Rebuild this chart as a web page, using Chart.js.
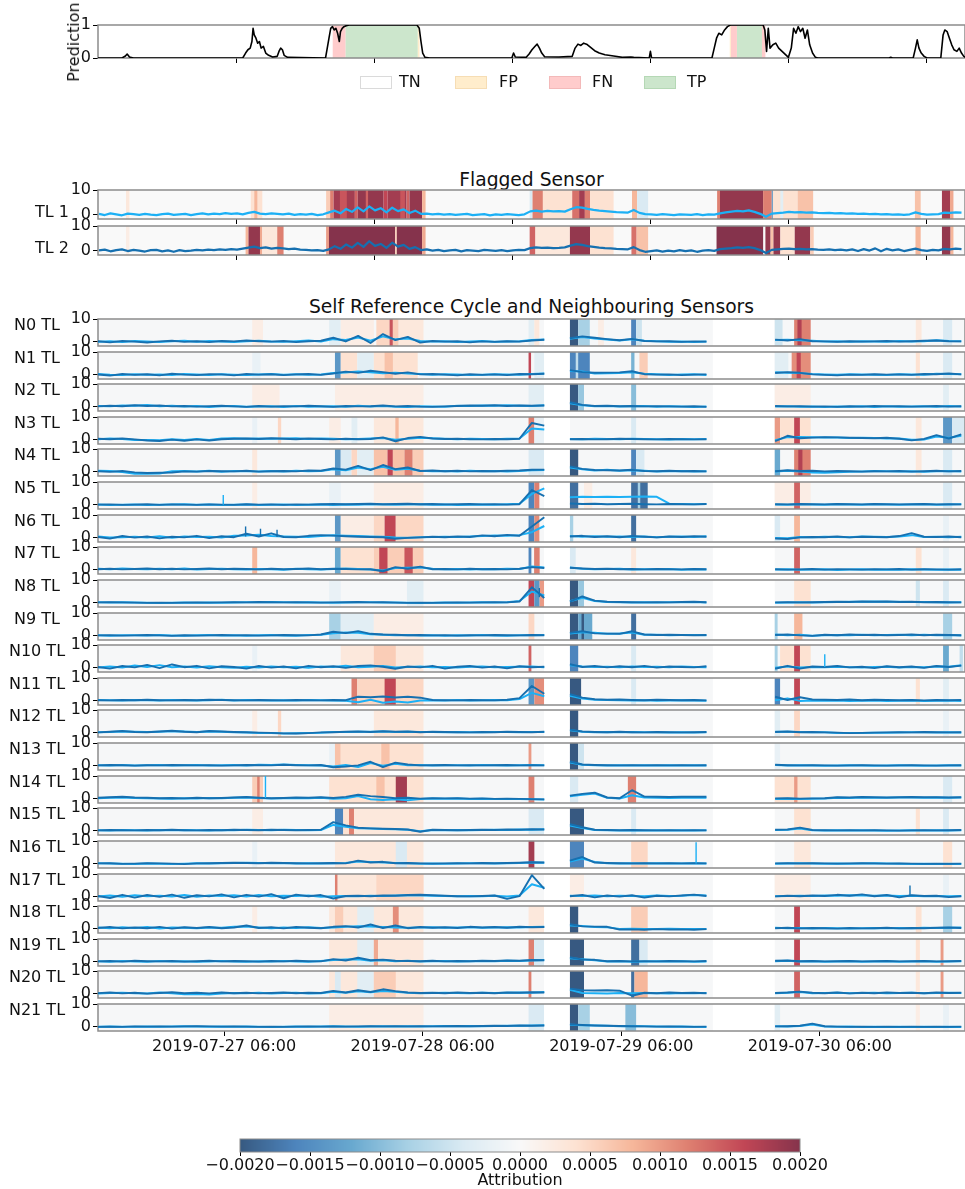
<!DOCTYPE html>
<html>
<head>
<meta charset="utf-8">
<title>Sensor attribution overview</title>
<script src="https://cdn.jsdelivr.net/npm/chart.js@4.4.1/dist/chart.umd.min.js"></script>
<style>
  html, body { margin: 0; padding: 0; background: #fff; }
  #fig { position: relative; width: 965px; height: 1189px; overflow: hidden;
         font-family: 'DejaVu Sans', 'Liberation Sans', sans-serif; color: #111; }
  #fig canvas { position: absolute; left: 0; }
  .txt { position: absolute; white-space: nowrap; line-height: 1; font-size: 16px; }
  .swatch { position: absolute; width: 30px; height: 11px; border: 1px solid; }
</style>
</head>
<body>
<div id="fig"></div>
<script>
// ---------------- data ----------------

// Model prediction, [hour, probability]
const predictionPoints = [
  [-0.2,0],[4.0,0],[4.6,0.06],[4.9,0.12],[5.3,0.03],[6,0],[25.0,0],[25.5,0.15],[25.9,0.25],[26.3,0.3],
  [26.6,0.5],[26.8,0.9],[27.0,0.7],[27.3,0.6],[27.6,0.45],[27.9,0.5],[28.2,0.3],[28.6,0.35],[29.0,0.15],[29.5,0.08],
  [30.2,0.03],[31.0,0.05],[31.3,0.2],[31.6,0.3],[31.9,0.25],[32.2,0.08],[32.8,0.02],[35,0.01],[39.4,0],[39.7,0.3],
  [40.0,0.6],[40.3,0.9],[40.6,0.95],[40.9,0.85],[41.2,0.9],[41.5,0.75],[41.8,0.5],[42.0,0.8],[42.3,0.9],[42.6,0.95],
  [43.0,0.98],[43.5,1.0],[55.3,1.0],[55.7,0.9],[56.0,0.5],[56.3,0.15],[56.7,0.02],[57.5,0],[71.8,0],[72.1,0.15],
  [72.4,0.03],[74.3,0.02],[74.8,0.12],[75.3,0.25],[75.8,0.35],[76.2,0.42],[76.6,0.3],[77.0,0.15],[77.5,0.04],[80,0.03],
  [82.3,0.05],[82.8,0.3],[83.3,0.42],[83.8,0.38],[84.3,0.45],[84.8,0.42],[85.5,0.32],[86.2,0.22],[87.0,0.15],[88.0,0.1],
  [89.5,0.06],[91,0.02],[92.5,0.03],[93,0.02],[95.7,0],[95.9,0.2],[96.1,0],[106.6,0],[107.0,0.3],[107.4,0.6],
  [107.8,0.75],[108.3,0.7],[108.8,0.85],[109.3,0.95],[109.8,1.0],[115.5,1.0],[115.8,0.85],[116.1,0.2],[116.4,0.9],[116.7,0.3],
  [117.2,0.4],[117.7,0.45],[118.2,0.3],[118.8,0.2],[119.4,0.1],[119.9,0.02],[120.4,0.3],[120.8,0.9],[121.2,0.75],[121.6,0.95],
  [122.0,0.8],[122.4,0.9],[122.8,0.6],[123.2,0.85],[123.6,0.4],[124.1,0.15],[124.6,0.02],[125,0],[137.4,0],[137.7,0.02],
  [138,0],[141.6,0],[142.0,0.3],[142.3,0.55],[142.6,0.3],[143.0,0.15],[143.5,0.05],[144,0],[146.4,0],[146.8,0.7],
  [147.1,0.85],[147.5,0.8],[147.9,0.6],[148.3,0.4],[148.7,0.25],[149.2,0.2],[149.6,0.3],[150.0,0.15],[150.4,0.05],[150.7,0.02]
];

// Outcome periods [from hour, to hour, class]; everything else is TN
const outcomePeriods = [
  [40.65, 42.9, 'FN'], [42.9, 55.45, 'TP'], [55.45, 55.75, 'FP'],
  [109.7, 109.9, 'FP'], [109.9, 110.95, 'FN'], [110.95, 115.3, 'TP'], [115.3, 115.9, 'FN']
];
const outcomeClasses = ['TN', 'FP', 'FN', 'TP'];

// Flagged sensor time axis (hours), ticks once a day
const FLAG_X_MIN = -0.17, FLAG_X_MAX = 150.61;
const flagTickHours = [24, 48, 72, 96, 120, 144];
const TL_FIRST_HOUR = 0, TL_STEP_HOURS = 1;

// Flagged sensor readings, hourly
const tl1Values = [
  0.3,-0.2,0.5,0.1,-0.3,0.4,0.2,-0.1,0.3,0.0,
  -0.2,0.2,0.4,-0.1,0.1,0.3,-0.2,0.2,0.5,0.1,
  0.4,0.2,0.6,0.3,0.5,0.1,0.7,1.1,0.4,0.2,
  0.5,0.3,0.1,0.4,-0.1,0.2,0.0,0.3,-0.2,0.1,
  0.9,1.6,0.5,2.3,1.1,2.9,1.3,3.3,1.7,2.6,
  0.9,2.8,1.4,2.1,0.6,1.6,0.3,0.4,0.1,0.3,
  0.0,0.2,-0.1,0.1,0.3,-0.2,0.0,0.2,-0.3,0.1,
  -0.1,0.2,0.0,-0.2,0.1,1.3,1.6,1.2,1.5,1.3,
  1.4,1.2,2.2,3.0,2.8,2.3,1.9,1.6,1.4,1.2,
  1.0,0.9,0.8,1.9,0.7,0.2,0.1,-0.1,0.2,0.0,
  -0.2,0.1,0.0,-0.1,0.2,-0.2,0.1,0.0,0.5,0.9,
  1.2,1.5,1.3,1.7,1.1,0.3,-0.9,0.4,0.6,0.8,
  1.1,0.9,1.0,0.8,0.9,0.7,0.6,0.7,0.5,0.6,
  0.4,0.5,0.3,0.4,0.2,0.3,0.1,0.2,0.0,0.1,
  -0.1,0.1,0.9,0.3,0.0,0.1,0.2,0.8,0.7,0.9,0.8
];
const tl2Values = [
  0.1,0.4,-0.3,0.2,0.5,-0.2,0.3,0.0,-0.4,0.2,
  0.3,-0.3,0.1,-0.5,0.2,-0.2,0.0,0.3,0.1,0.4,
  0.2,0.5,0.3,0.6,0.4,0.8,1.2,1.6,1.0,1.3,
  0.8,1.1,0.9,0.6,0.8,0.4,0.3,0.1,0.2,-0.1,
  0.5,1.8,0.7,2.5,1.2,3.1,1.5,3.8,1.9,2.7,
  1.1,3.2,1.6,2.3,0.7,1.4,0.2,0.5,0.0,0.3,
  -0.2,0.1,0.3,-0.3,0.2,0.0,-0.2,0.3,0.1,-0.1,
  0.2,-0.2,0.1,0.3,0.2,1.0,1.3,1.1,1.2,1.0,
  1.1,1.3,2.0,2.6,2.3,1.8,1.5,1.2,1.0,0.9,
  0.7,0.6,0.5,1.4,0.2,-0.5,-0.2,0.1,-0.4,0.0,
  -0.3,0.2,-0.2,0.1,-0.5,0.0,0.2,-0.1,0.6,0.8,
  1.0,1.3,1.1,1.4,1.0,0.2,-1.0,0.3,0.5,0.7,
  0.8,0.6,0.7,0.5,0.6,0.4,0.3,0.5,0.2,0.4,
  0.1,0.5,-0.2,0.6,0.0,0.9,-0.3,0.7,0.1,0.5,
  -0.2,0.3,0.8,0.2,-0.1,0.3,0.1,0.7,0.5,0.8,0.6
];

// Attribution bands [from hour, to hour, attribution]
const tl1Attr = [
  [4.7,5.3,3e-4],[26.4,27.0,4e-4],[27.0,27.6,8e-4],[27.6,28.4,4e-4],
  [39.5,40.2,6e-4],[40.2,40.8,1.2e-3],[40.8,44.5,1.8e-3],[41.9,43.1,1.5e-3],[44.5,45.0,1.4e-3],[45.0,49.5,1.9e-3],
  [46.4,46.8,1.4e-3],[49.5,50.2,1.6e-3],[50.2,53.5,1.8e-3],[52.4,53.2,1.5e-3],[53.5,54.0,1.4e-3],[54.0,56.2,1.9e-3],[56.2,56.8,8e-4],
  [74.9,75.4,-4e-4],[75.4,77.2,1.2e-3],[77.2,82.3,4e-4],[82.3,83.5,1.3e-3],[83.5,84.5,1.8e-3],[84.5,85.4,1.2e-3],[85.4,89.5,4e-4],
  [92.7,93.6,8e-4],[93.6,95.5,-4e-4],
  [107.5,108.0,1.2e-3],[108.0,115.5,1.9e-3],[115.5,117.0,1.2e-3],[117.0,117.2,-1.5e-3],[117.2,121.5,4e-4],[118.5,119.0,-3e-4],
  [121.5,124.2,7e-4],[141.9,142.9,7e-4],[146.6,148.0,1.8e-3],[148.0,148.6,9e-4]
];
const tl2Attr = [
  [4.7,5.3,2e-4],[25.5,26.0,8e-4],[26.0,28.0,1.9e-3],[28.0,28.4,9e-4],[28.4,31.0,3e-4],[31.0,32.1,1.2e-3],
  [39.5,40.0,1.0e-3],[40.0,51.5,2e-3],[51.5,51.8,6e-4],[51.8,56.2,2e-3],[56.2,56.8,9e-4],
  [74.9,75.9,1.4e-3],[75.9,81.9,3e-4],[81.9,85.4,1.9e-3],[85.4,89.5,4e-4],[92.6,93.5,1.3e-3],[93.5,95.5,7e-4],
  [107.4,115.5,2e-3],[115.9,116.8,1.9e-3],[116.8,117.3,7e-4],[117.3,118.5,1.9e-3],[118.5,121.0,4e-4],
  [121.0,123.7,1.9e-3],[123.7,124.3,6e-4],[142.0,142.9,8e-4],[146.6,148.1,1.9e-3],[148.1,148.6,8e-4]
];

// Reference cycle / neighbour time axis: hours from 2019-07-27 00:00
const NB_X_MIN = -9.24, NB_X_MAX = 95.55;
const nbTickHours = [6, 30, 54, 78];
const nbTickLabels = ['2019-07-27 06:00', '2019-07-28 06:00', '2019-07-29 06:00', '2019-07-30 06:00'];
// recorded stretches [first hour, number of samples], sampled every 1.5 h
const NB_SEGMENTS = [[-9.3, 37], [47.8, 12], [72.6, 16]];
const NB_STEP_HOURS = 1.5;
const nbCoverage = [[-9.24, 44.67], [47.8, 65.07], [72.55, 95.55]];

const n0Dark = [0.3,-0.2,0.4,0.1,-0.3,0.2,0.5,0.0,0.3,-0.1, 0.4,0.2,0.6,0.3,0.1,0.4,-0.1,0.3,0.5,1.8, 0.2,2.6,-0.5,3.4,0.8,2.2,-0.3,0.4,0.1,0.3, -0.2,0.2,0.0,0.3,0.1,0.6,0.9,
  1.6,2.4,1.8,1.2,0.7,1.3,0.4,0.2,0.3,0.0,0.2,0.1,
  1.0,0.6,1.2,0.3,0.2,0.0,0.3,0.1,0.2,0.4,0.1,0.3,0.5,0.6,0.3,0.2];
const n0Light = [0.1,0.3,-0.1,0.4,0.2,0.0,0.3,0.5,0.1,0.4, 0.2,0.0,0.3,0.5,0.2,0.1,0.3,0.6,0.2,1.2, 0.8,1.9,0.5,2.4,1.1,1.5,0.4,0.2,0.3,0.0, 0.2,0.4,0.1,0.2,0.3,0.8,1.0,
  1.4,2.1,1.5,1.0,0.6,1.1,0.5,0.3,0.1,0.2,0.0,0.2,
  0.8,0.9,0.7,0.5,0.2,0.3,0.1,0.3,0.2,0.1,0.4,0.2,0.3,0.7,0.4,0.3];
const n1Dark = [0.2,-0.3,0.4,0.0,0.3,-0.2,0.5,0.1,-0.1,0.3, 0.2,-0.2,0.4,0.1,0.3,-0.1,0.2,0.4,0.0,0.6, 1.4,0.9,1.8,1.2,0.5,1.1,0.2,0.4,0.1,-0.2, 0.3,0.0,0.2,-0.1,0.4,0.3,0.5,
  2.1,1.2,0.9,1.0,1.1,1.6,0.3,0.1,0.2,-0.1,0.1,0.2,
  0.8,1.2,0.9,0.2,0.0,-0.2,0.1,0.0,0.3,0.1,0.2,0.0,0.4,0.3,0.6,0.2];
const n1Light = [0.4,0.1,0.0,0.3,0.1,0.2,0.0,0.4,0.2,0.0, 0.3,0.1,0.0,0.2,0.4,0.1,0.3,0.1,0.2,0.8, 1.0,1.5,1.1,0.7,0.9,0.6,0.4,0.1,0.3,0.2, 0.0,0.1,0.3,0.2,0.1,0.4,0.6,
  1.7,1.5,0.6,0.7,0.8,1.2,0.5,0.3,0.0,0.2,0.3,0.0,
  1.1,0.9,0.8,0.4,0.2,0.1,0.3,0.2,0.1,0.0,0.3,0.2,0.1,0.5,0.4,0.3];
const n2Dark = [0.2,0.5,0.3,0.7,0.4,0.6,0.2,0.4,0.1,0.3, 0.5,0.2,0.0,0.4,0.1,0.3,0.2,0.5,0.3,0.0, 0.4,0.2,0.3,0.6,0.2,0.4,0.1,0.0,0.2,0.4, 0.6,0.5,0.7,0.4,0.6,0.5,0.6,
  2.0,0.9,0.4,0.5,0.3,0.4,0.2,0.3,0.2,0.1,0.3,0.0,
  0.4,0.2,0.3,0.1,0.2,0.0,0.3,0.1,0.4,0.2,0.3,0.1,0.2,0.4,0.1,0.3];
const n2Light = [0.4,0.3,0.6,0.5,0.8,0.3,0.5,0.2,0.4,0.0, 0.3,0.4,0.1,0.2,0.3,0.0,0.4,0.1,0.2,0.3, 0.1,0.5,0.2,0.4,0.1,0.0,0.3,0.2,0.1,0.5, 0.4,0.6,0.5,0.7,0.5,0.4,0.7,
  1.6,0.7,0.3,0.4,0.2,0.3,0.4,0.1,0.3,0.2,0.0,0.2,
  0.2,0.3,0.1,0.2,0.0,0.2,0.1,0.3,0.0,0.3,0.1,0.2,0.3,0.1,0.4,0.2];
const n3Dark = [0.5,0.3,0.6,0.2,-0.3,-0.5,0.1,-0.4,0.2,-0.3, 0.3,0.5,0.6,0.4,0.7,0.5,0.3,0.6,0.4,0.2, 0.5,0.3,0.4,1.1,-0.6,0.8,1.3,0.6,0.4,0.5, 0.3,0.2,0.4,0.3,0.5,7.4,6.2,
  0.3,0.4,0.2,0.3,0.5,0.4,0.3,0.2,0.4,0.3,0.2,0.3,
  -0.6,1.8,0.7,1.0,1.2,1.1,0.9,0.8,0.7,0.9,0.5,-0.2,0.4,2.1,0.6,2.4];
const n3Light = [0.3,0.6,0.4,0.0,-0.1,-0.2,0.3,0.0,0.4,0.0, 0.6,0.7,0.5,0.6,0.5,0.6,0.7,0.4,0.6,0.5, 0.3,0.4,0.6,0.8,0.1,0.5,0.9,0.7,0.5,0.3, 0.5,0.4,0.3,0.5,0.6,5.0,4.5,
  0.4,0.3,0.5,0.4,0.3,0.5,0.4,0.3,0.2,0.4,0.3,0.4,
  -0.2,1.2,1.3,1.2,1.0,1.0,0.8,0.9,0.8,0.6,0.6,0.1,0.2,1.5,0.9,1.8];
const n4Dark = [0.3,0.0,0.4,-0.2,-0.5,-0.4,-0.3,0.2,0.1,0.4, 0.3,0.2,0.5,0.1,0.3,0.4,0.2,0.6,0.5,1.5, 1.0,2.6,0.8,3.0,1.2,1.9,0.4,0.6,0.3,0.5, 0.2,0.4,0.3,0.5,0.6,0.9,1.0,
  2.4,1.3,0.8,0.7,0.6,0.9,0.4,0.3,0.5,0.3,0.4,0.2,
  0.3,0.7,0.4,0.5,0.2,0.4,0.3,0.1,0.3,0.2,0.4,0.1,0.3,0.5,0.2,0.4];
const n4Light = [0.5,0.4,-0.1,-0.8,-0.8,-0.7,0.3,0.4,0.2,0.5, 0.1,0.4,0.3,0.2,0.4,0.2,0.5,0.3,0.4,1.1, 0.7,1.9,1.2,2.2,0.9,1.4,0.5,0.3,0.4,0.2, 0.5,0.3,0.4,0.2,0.4,0.7,0.8,
  1.9,1.1,0.6,0.9,0.5,0.7,0.5,0.2,0.3,0.4,0.2,0.3,
  0.2,0.5,0.2,-0.3,-0.4,-0.2,0.1,0.2,0.4,0.3,0.2,0.3,0.1,0.3,0.4,0.2];
const n5Dark = [0.1,0.2,0.0,0.1,0.3,0.0,0.2,0.1,0.0,0.2, 0.1,0.0,0.3,0.1,0.2,0.0,0.2,0.1,0.3,0.4, 0.3,0.4,0.5,0.3,0.4,0.5,0.3,0.4,0.2,0.3, 0.4,0.2,0.3,0.1,0.3,6.5,3.8,
  0.6,0.4,0.5,0.3,0.4,0.5,0.3,0.2,0.4,0.3,0.2,0.4,
  0.3,0.2,0.4,0.3,0.2,0.4,0.3,0.2,0.4,0.3,0.2,0.3,0.4,0.2,0.3,0.2];
const n5Light = [0.2,0.0,0.1,0.2,0.0,0.1,0.2,0.3,0.1,0.2, 0.0,0.1,0.2,0.0,0.1,0.2,0.0,0.1,0.2,0.0, 0.2,0.1,0.3,0.2,0.1,0.2,0.3,0.1,0.2,0.0, 0.1,0.2,0.1,0.3,0.5,4.8,7.2,
  3.3,3.5,3.4,3.6,3.4,3.5,3.7,3.5,0.5,0.4,0.3,0.4,
  0.2,0.1,0.3,0.2,0.1,0.3,0.2,0.1,0.3,0.2,0.1,0.2,0.3,0.1,0.2,0.3];
const n6Dark = [0.4,-0.3,0.8,0.1,0.6,-0.2,0.5,0.2,0.9,-0.1, 0.7,0.3,1.8,0.6,2.0,0.4,0.3,0.9,1.2,1.0, 0.7,0.5,0.4,0.3,-0.4,0.0,0.2,0.5,0.3,0.6, 0.4,1.1,0.7,1.3,0.9,5.0,9.0,
  0.6,0.9,0.4,0.7,0.3,0.8,0.5,0.2,0.6,0.4,0.7,0.5,
  -0.3,-0.5,0.2,0.4,0.3,0.6,0.2,0.5,0.4,0.3,0.8,2.1,0.5,0.4,0.6,0.3];
const n6Light = [0.6,0.2,0.3,0.5,0.2,0.7,0.1,0.6,0.4,0.5, 0.2,0.9,1.0,1.4,0.8,0.6,0.5,0.4,0.8,1.1, 0.9,0.8,0.6,0.5,0.2,0.1,0.3,0.4,0.5,0.4, 0.6,0.8,1.0,0.9,1.2,2.5,5.2,
  0.8,0.5,0.7,0.5,0.6,0.4,0.6,0.3,0.5,0.6,0.4,0.7,
  0.0,-0.2,0.4,0.3,0.5,0.4,0.3,0.6,0.5,0.4,0.6,1.2,0.4,0.5,0.3,0.5];
const n7Dark = [0.3,0.5,0.2,0.4,0.6,0.3,0.5,0.2,0.4,0.6, 0.3,0.5,0.4,0.2,0.5,0.3,0.4,0.6,0.3,0.5, 0.4,0.2,0.3,-0.6,1.2,0.5,1.4,0.3,0.4,0.2, 0.5,0.3,0.4,0.2,0.5,1.2,0.8,
  0.9,0.6,0.4,0.5,0.3,0.4,0.2,0.4,0.3,0.2,0.4,0.3,
  0.3,0.1,0.2,0.4,0.1,0.3,0.2,0.1,0.3,0.2,0.4,0.1,0.3,0.2,0.1,0.3];
const n7Light = [0.5,0.3,0.6,0.4,0.3,0.5,0.3,0.6,0.2,0.4, 0.5,0.3,0.2,0.4,0.3,0.1,0.5,0.3,0.2,0.4, 0.6,0.4,0.2,-0.3,0.8,0.9,1.0,0.5,0.3,0.4, 0.2,0.4,0.3,0.5,0.4,1.5,1.0,
  1.0,0.5,0.3,0.4,0.5,0.2,0.3,0.3,0.4,0.1,0.3,0.2,
  0.2,0.3,0.1,0.2,0.3,0.0,0.2,0.3,0.1,0.2,0.1,0.3,0.2,0.1,0.2,0.1];
const n8Dark = [0.2,0.3,0.2,0.1,0.0,0.1,0.0,0.1,0.2,0.1, 0.2,0.3,0.2,0.4,0.3,0.2,0.3,0.2,0.1,0.2, 0.3,0.4,0.2,0.3,0.1,0.0,0.1,0.0,0.1,0.2, 0.1,0.2,0.3,0.2,0.6,6.8,2.1,
  0.5,2.8,1.0,0.5,0.4,0.3,0.2,0.3,0.2,0.4,0.5,0.3,
  0.2,0.3,0.2,0.3,0.4,0.5,0.4,0.6,0.5,0.6,0.4,0.5,0.3,0.4,0.3,0.2];
const n8Light = [0.3,0.2,0.3,0.2,0.1,0.0,0.1,0.2,0.1,0.2, 0.1,0.2,0.3,0.3,0.4,0.3,0.2,0.3,0.2,0.1, 0.2,0.3,0.3,0.2,0.2,0.1,0.0,0.1,0.2,0.1, 0.2,0.3,0.2,0.3,0.8,5.0,3.2,
  0.7,2.2,0.8,0.4,0.3,0.2,0.3,0.2,0.3,0.3,0.4,0.2,
  0.1,0.2,0.3,0.2,0.3,0.4,0.5,0.5,0.6,0.5,0.5,0.4,0.4,0.3,0.2,0.3];
const n9Dark = [0.2,0.3,0.1,0.2,0.4,0.2,0.0,0.3,0.1,0.2, 0.4,0.2,0.3,0.1,0.2,0.4,0.3,0.2,0.6,1.8, 1.2,2.1,0.9,0.6,0.5,0.3,0.4,0.2,0.3,0.1, 0.3,0.2,0.4,0.3,0.2,0.4,0.3,
  1.3,2.0,1.1,1.0,0.9,2.0,0.6,0.4,0.5,0.4,0.3,0.4,
  0.4,0.6,0.2,0.0,0.5,0.3,0.6,0.4,0.5,0.3,0.4,0.6,0.3,0.5,0.4,0.3];
const n9Light = [0.3,0.1,0.3,0.3,0.2,0.4,0.2,0.1,0.3,0.4, 0.2,0.3,0.1,0.3,0.4,0.2,0.1,0.4,0.5,1.2, 1.5,1.4,0.7,0.5,0.3,0.4,0.2,0.3,0.1,0.3, 0.2,0.4,0.2,0.1,0.3,0.3,0.4,
  1.0,1.6,1.4,0.9,1.0,1.5,0.5,0.5,0.3,0.4,0.4,0.3,
  0.6,0.3,0.5,0.1,0.3,0.4,0.3,0.5,0.3,0.4,0.5,0.3,0.5,0.3,0.4,0.2];
const n10Dark = [0.4,-0.3,0.8,0.2,1.3,-0.1,1.5,0.3,0.9,-0.2, 0.7,0.4,-0.3,0.8,0.1,0.6,-0.2,0.9,0.3,0.7, 0.0,0.8,1.1,0.5,-0.4,0.6,0.2,0.9,-0.3,0.5, 0.8,0.1,0.6,-0.2,0.7,0.3,0.5,
  1.6,0.4,0.8,0.2,0.7,0.3,0.9,0.1,0.6,0.4,0.2,0.7,
  -0.4,0.9,-0.3,0.6,0.4,0.8,0.2,0.5,-0.1,0.7,0.3,0.6,0.0,0.8,0.4,1.0];
const n10Light = [0.1,0.6,0.2,1.0,0.4,1.2,0.3,0.6,0.2,0.7, 0.3,0.1,0.5,0.2,0.6,0.3,0.5,0.1,0.6,0.4, 0.9,0.3,0.5,0.8,0.2,0.4,0.6,0.3,0.4,0.2, 0.5,0.6,0.3,0.4,0.5,0.6,0.3,
  1.2,0.6,0.4,0.5,0.3,0.6,0.4,0.5,0.3,0.6,0.4,0.3,
  0.1,0.6,0.2,0.4,0.3,0.5,0.3,0.2,0.4,0.5,0.2,0.4,0.3,0.6,0.5,1.2];
const n11Dark = [0.3,0.2,0.4,0.3,0.5,0.3,0.2,0.4,0.3,0.5, 0.4,0.3,0.2,0.4,0.3,0.2,0.4,0.3,0.2,0.4, 0.3,1.8,1.6,1.9,1.5,1.8,1.4,0.4,0.3,0.2, 0.4,0.3,0.2,0.5,1.2,6.5,3.1,
  2.9,1.4,0.7,0.5,0.6,0.4,0.3,0.5,0.4,0.3,0.4,0.2,
  1.8,0.4,1.6,0.6,0.5,0.4,0.6,0.3,0.5,0.4,0.3,0.4,0.2,0.4,0.3,0.4];
const n11Light = [0.4,0.3,0.2,0.4,0.3,0.2,0.4,0.3,0.2,0.3, 0.5,0.2,0.4,0.3,0.2,0.3,0.2,0.4,0.3,0.2, 0.1,-0.6,0.5,-0.8,-0.3,-0.7,0.2,0.3,0.2,0.4, 0.2,0.3,0.4,0.3,0.8,3.5,2.0,
  2.2,1.0,0.5,0.4,0.3,0.2,0.3,0.1,0.2,0.3,0.2,0.1,
  0.3,1.1,0.0,0.2,0.1,0.2,0.0,0.1,0.2,0.0,0.1,0.2,0.0,0.1,0.2,0.0];
const n12Dark = [0.2,0.5,0.8,0.4,0.3,0.6,0.9,0.5,0.3,0.8, 0.6,0.4,0.3,0.1,0.0,-0.2,-0.3,-0.1,0.2,0.3, 0.5,0.6,0.4,0.7,0.5,0.6,0.3,0.5,0.4,0.3, 0.2,0.4,0.3,0.5,0.4,0.3,0.5,
  1.4,0.6,0.4,0.3,0.5,0.3,0.2,0.4,0.3,0.2,0.3,0.4,
  0.4,0.6,0.3,0.4,0.2,0.1,-0.1,0.0,0.1,0.2,0.3,0.2,0.4,0.3,0.2,0.3];
const n12Light = [0.3,0.4,0.6,0.5,0.4,0.5,0.7,0.6,0.4,0.6, 0.5,0.3,0.2,0.0,-0.1,-0.3,-0.2,0.0,0.1,0.4, 0.4,0.5,0.5,0.6,0.4,0.5,0.4,0.4,0.3,0.4, 0.3,0.3,0.4,0.4,0.3,0.4,0.4,
  1.1,0.5,0.3,0.4,0.3,0.4,0.3,0.3,0.2,0.3,0.2,0.3,
  0.5,0.5,0.4,0.3,0.3,0.0,0.0,-0.1,0.1,0.1,0.2,0.3,0.3,0.2,0.3,0.2];
const n13Dark = [0.2,0.4,0.3,0.1,0.3,0.2,0.4,0.3,0.2,0.3, 0.1,0.2,0.4,0.3,0.2,0.5,0.3,0.2,0.4,-0.6, -0.3,0.2,1.8,-0.5,1.4,0.6,0.2,0.3,0.4,0.2, 0.3,0.2,0.3,0.4,0.2,0.3,0.2,
  1.9,0.6,0.4,0.3,0.2,0.3,0.2,0.3,0.2,0.3,0.2,0.3,
  0.5,0.3,0.2,0.3,0.2,0.1,0.2,0.3,0.2,0.1,0.2,0.3,0.2,0.1,0.2,0.3];
const n13Light = [0.3,0.2,0.4,0.2,0.3,0.4,0.2,0.3,0.4,0.2, 0.3,0.4,0.2,0.5,0.4,0.6,0.4,0.3,0.2,-0.3, 0.4,-0.5,1.2,0.1,0.9,0.3,0.4,0.2,0.3,0.3, 0.2,0.4,0.3,0.2,0.3,0.4,0.3,
  1.5,0.5,0.3,0.2,0.3,0.2,0.3,0.2,0.3,0.2,0.3,0.2,
  0.4,0.2,0.3,0.2,0.1,0.2,0.3,0.2,0.1,0.2,0.3,0.2,0.1,0.2,0.3,0.2];
const n14Dark = [0.5,0.7,0.9,0.6,0.5,0.3,0.4,0.2,0.5,0.3, 0.4,0.6,0.8,0.5,0.3,0.4,0.6,0.5,0.7,0.4, 0.9,1.8,1.2,0.8,0.3,0.5,0.1,0.3,0.2,0.3, 0.1,0.2,0.0,0.1,0.0,-0.1,-0.2,
  1.4,2.2,2.7,0.6,0.3,3.8,1.0,0.9,0.8,0.9,1.0,0.9,
  0.2,0.3,0.1,0.2,0.3,0.7,0.6,0.8,0.7,0.6,0.7,0.8,0.7,0.7,0.6,0.7];
const n14Light = [0.3,0.5,0.6,0.4,0.3,0.2,0.1,0.3,0.2,0.4, 0.3,0.5,0.6,0.4,0.2,0.3,0.4,0.3,0.5,0.1, 0.3,1.2,-0.2,-0.5,-0.2,-0.6,0.0,0.2,0.1,0.2, 0.0,0.1,-0.1,0.0,-0.1,-0.2,-0.3,
  1.2,1.8,2.3,0.5,0.2,1.6,0.6,0.5,0.4,0.5,0.6,0.5,
  0.0,0.1,0.0,0.1,0.2,0.5,0.4,0.6,0.5,0.5,0.6,0.6,0.5,0.6,0.5,0.6];
const n15Dark = [0.2,0.4,0.3,0.2,0.4,0.3,0.5,0.3,0.2,0.4, 0.3,0.5,0.4,0.3,0.5,0.4,0.3,0.4,0.5,3.8, 2.4,1.4,1.1,0.9,0.8,0.6,-0.4,0.5,0.4,0.3, 0.4,0.5,0.4,0.6,0.5,0.7,0.6,
  2.9,1.6,0.5,0.4,0.3,0.4,0.3,0.2,0.3,0.2,0.3,0.2,
  0.5,0.6,1.4,0.4,0.3,0.2,0.3,0.2,0.3,0.2,0.1,0.2,0.3,0.2,0.3,0.4];
const n15Light = [0.3,0.2,0.4,0.3,0.2,0.4,0.3,0.4,0.3,0.2, 0.4,0.3,0.5,0.4,0.3,0.5,0.4,0.3,0.4,2.6, 1.8,1.2,1.0,0.8,0.7,0.5,-0.2,0.4,0.3,0.4, 0.3,0.4,0.5,0.4,0.6,0.5,0.7,
  2.3,1.2,0.4,0.3,0.2,0.3,0.2,0.3,0.2,0.3,0.2,0.3,
  0.4,0.5,1.0,0.3,0.2,0.3,0.2,0.3,0.2,0.1,0.2,0.3,0.2,0.3,0.2,0.3];
const n16Dark = [0.2,0.3,0.0,0.1,0.3,0.2,0.1,-0.1,0.2,0.3, 0.4,0.5,0.4,0.3,0.5,0.4,0.3,0.2,0.3,0.4, 0.2,1.4,0.6,0.9,0.3,0.4,0.2,0.1,0.2,0.3, 0.2,0.4,0.3,0.4,0.5,0.7,0.6,
  1.4,3.0,0.6,0.4,0.3,0.2,0.3,0.2,0.3,0.2,0.3,0.2,
  0.2,0.3,0.2,0.3,0.2,0.1,0.2,0.3,0.2,0.1,0.2,0.1,0.0,0.1,0.0,0.1];
const n16Light = [0.3,0.2,0.1,0.0,0.2,0.1,0.0,0.1,0.3,0.2, 0.3,0.4,0.5,0.4,0.3,0.4,0.2,0.3,0.2,0.3, 0.4,1.0,0.8,0.6,0.4,0.3,0.1,0.2,0.1,0.2, 0.3,0.3,0.2,0.3,0.4,0.6,0.5,
  1.0,2.3,0.8,0.3,0.2,0.3,0.2,0.3,0.2,0.2,0.3,0.2,
  0.1,0.2,0.3,0.2,0.1,0.2,0.1,0.2,0.3,0.2,0.1,0.0,0.1,0.0,0.1,0.0];
const n17Dark = [0.4,-0.5,0.9,-0.3,0.8,0.0,1.0,-0.4,0.7,0.2, 1.1,-0.2,0.9,0.1,1.2,-0.6,1.0,0.3,0.8,-0.7, 0.4,0.5,0.3,0.6,0.5,0.8,0.9,0.7,0.5,0.3, 0.2,0.4,0.6,-0.9,0.3,9.5,3.5,
  0.3,0.8,-0.2,0.6,0.1,0.7,-0.3,0.5,0.2,0.6,1.0,0.4,
  0.2,0.5,0.3,0.6,0.4,0.9,0.5,1.1,0.3,0.8,-0.2,0.7,0.4,0.5,-0.1,0.3];
const n17Light = [0.2,0.6,0.1,0.7,0.3,0.5,0.2,0.8,0.1,0.6, 0.4,0.7,0.2,0.8,0.3,0.5,0.4,0.6,0.1,0.3, 0.4,0.3,0.5,0.4,0.6,0.7,0.6,0.5,0.4,0.3, 0.4,0.3,0.5,0.2,0.6,5.5,4.0,
  0.5,0.4,0.6,0.3,0.5,0.4,0.3,0.6,0.4,0.5,0.8,0.6,
  0.3,0.4,0.5,0.4,0.6,0.5,0.7,0.6,0.5,0.6,0.4,0.5,0.3,0.4,0.3,0.4];
const n18Dark = [0.4,0.8,0.2,0.6,0.3,0.9,0.1,0.7,0.4,0.8, 0.3,0.6,1.5,0.4,0.7,0.2,0.8,0.5,0.3,0.9, 1.2,0.6,1.9,0.4,1.5,0.3,0.8,0.5,0.7,0.4, 0.9,0.6,0.8,0.5,0.9,0.7,0.8,
  2.0,1.1,1.0,0.9,-0.3,-0.2,-0.4,-0.1,-0.3,-0.2,-0.4,-0.1,
  0.3,0.5,0.2,0.4,0.3,0.1,0.4,0.2,0.3,0.5,0.2,0.4,0.3,0.5,0.6,0.4];
const n18Light = [0.6,0.3,0.7,0.4,0.8,0.2,0.6,0.5,0.3,0.6, 0.5,0.9,1.0,0.6,0.3,0.6,0.4,0.7,0.4,0.6, 0.9,1.2,1.0,0.8,0.6,0.5,0.6,0.7,0.5,0.6, 0.7,0.5,0.6,0.7,0.6,0.8,0.9,
  1.5,1.3,0.8,0.7,0.0,0.1,-0.1,0.0,0.1,0.0,-0.1,0.0,
  0.5,0.3,0.4,0.2,0.4,0.3,0.2,0.3,0.4,0.3,0.4,0.3,0.5,0.4,0.5,0.6];
const n19Dark = [0.2,0.4,0.1,0.5,0.3,0.2,0.4,0.1,0.3,0.5, 0.2,0.4,0.3,0.1,0.4,0.2,0.5,0.3,0.2,1.2, 0.6,1.8,0.7,1.0,0.5,0.4,0.3,0.5,0.2,0.4, 0.3,0.5,0.4,0.6,0.5,0.8,0.7,
  2.0,1.0,0.9,0.3,0.4,0.2,0.3,0.2,0.4,0.3,0.2,0.4,
  0.5,0.6,0.3,0.4,0.2,0.3,0.4,0.2,0.3,0.4,0.2,0.3,0.4,0.2,0.3,0.4];
const n19Light = [0.3,0.1,0.4,0.2,0.1,0.4,0.2,0.3,0.1,0.2, 0.4,0.2,0.1,0.3,0.2,0.4,0.2,0.1,0.4,0.8, 1.0,1.2,0.5,0.7,0.3,0.5,0.2,0.3,0.4,0.2, 0.3,0.4,0.3,0.5,0.4,0.6,0.8,
  1.6,1.2,0.7,0.2,0.3,0.1,0.2,0.3,0.2,0.3,0.1,0.2,
  0.3,0.5,0.2,0.3,0.1,0.2,0.3,0.1,0.2,0.3,0.1,0.2,0.3,0.1,0.2,0.3];
const n20Dark = [0.3,0.6,0.2,0.5,0.1,0.4,0.7,0.3,0.5,0.2, 0.6,0.3,0.5,0.2,0.4,0.6,0.3,0.5,0.4,1.3, 0.6,1.6,0.8,2.0,1.2,0.6,0.4,0.5,0.3,0.6, 0.4,0.5,0.3,0.6,0.5,0.7,0.6,
  2.3,1.6,1.5,1.6,1.4,-0.8,0.5,0.3,0.6,0.4,0.5,0.3,
  0.4,0.6,1.0,0.5,0.3,0.6,0.2,0.5,0.3,0.6,0.4,0.5,0.3,0.6,0.4,0.5];
const n20Light = [0.2,0.4,0.5,0.3,0.2,0.6,0.3,-0.2,0.0,-0.3, 0.2,0.4,0.3,0.5,0.2,0.4,0.5,0.2,0.3,0.9, 0.5,1.1,0.7,1.3,0.9,0.5,0.3,0.4,0.5,0.4, 0.3,0.5,0.4,0.5,0.6,0.5,0.8,
  1.8,0.4,0.3,0.2,0.4,0.3,0.4,0.3,0.2,0.4,0.3,0.4,
  0.3,0.5,0.8,0.3,0.4,0.5,0.3,0.4,0.5,0.3,0.4,0.5,0.3,0.4,0.5,0.4];
const n21Dark = [0.0,0.1,0.0,0.2,0.1,0.2,0.1,0.2,0.3,0.2, 0.1,0.2,0.1,0.0,0.1,0.0,0.1,0.2,0.1,0.2, 0.1,0.2,0.3,0.2,0.3,0.2,0.3,0.2,0.3,0.4, 0.3,0.4,0.5,0.4,0.6,0.5,0.6,
  1.1,0.8,0.6,0.5,0.4,0.3,0.2,0.1,0.2,0.1,0.0,0.1,
  0.2,0.3,0.5,1.4,0.3,0.1,0.0,0.1,0.0,0.1,0.0,0.1,0.0,0.1,0.0,0.1];
const n21Light = [0.1,0.2,0.1,0.1,0.2,0.1,0.2,0.3,0.2,0.1, 0.2,0.1,0.2,0.1,0.0,0.1,0.2,0.1,0.2,0.3, 0.2,0.1,0.2,0.3,0.2,0.3,0.2,0.3,0.4,0.3, 0.4,0.3,0.4,0.5,0.5,0.6,0.7,
  0.9,0.7,0.6,0.5,0.3,0.4,0.3,0.2,0.1,0.2,0.1,0.0,
  0.3,0.2,0.4,1.0,0.2,0.1,0.2,0.0,0.1,0.0,0.1,0.0,0.1,0.0,0.1,0.0];

// Short single-reading spikes [panel, line, hour, from, to]
const lineSpikes = [
  [5, 'light', 5.9, 0.1, 4.3], [6, 'dark', 8.6, 0.6, 5.0], [6, 'dark', 10.4, 0.5, 4.0], [6, 'dark', 12.4, 0.4, 3.5],
  [8, 'dark', 44.1, 2.5, 6.5], [10, 'light', 78.6, 0.4, 6.0], [14, 'light', 11.0, 0.4, 10.0],
  [16, 'light', 63.05, 0.2, 9.5], [17, 'dark', 88.9, 0.5, 5.0]
];

// Neighbour attribution bands [from hour, to hour, attribution]
const n0Attr = [[9.4,10.7,2e-4],[18.7,20.1,-3e-4],[20.1,24.1,2e-4],[24.4,26.0,5e-4],[26.0,26.4,1.5e-3],[26.4,27.1,6e-4],[27.1,30.1,3e-4],
  [42.8,43.5,-3e-4],[43.5,44.1,3e-4],[47.8,48.8,-2e-3],[48.8,50.2,-8e-4],[51.2,51.9,2e-4],[55.2,55.8,-1.6e-3],[55.8,56.5,-5e-4],
  [72.55,73.5,-5e-4],[74.9,76.9,1.2e-3],[75.3,75.8,1.7e-3],[89.6,90.3,3e-4],[92.9,94.0,-4e-4]];
const n1Attr = [[9.4,10.4,-2e-4],[19.4,20.1,-1.4e-3],[20.1,22.1,4e-4],[22.1,24.1,-3e-4],[24.1,29.4,4e-4],[25.4,26.4,7e-4],[42.8,43.1,1.6e-3],
  [43.5,44.67,-3e-4],[47.8,50.2,-1.6e-3],[48.5,48.8,-6e-4],[55.2,55.6,-1.1e-3],[56.2,57.2,6e-4],[72.55,74.2,-3e-4],[74.6,76.9,1.1e-3],
  [75.2,75.7,1.6e-3],[89.6,90.1,4e-4],[92.9,94.0,-4e-4]];
const n2Attr = [[9.4,12.7,2e-4],[19.4,30.1,2e-4],[42.8,44.67,-3e-4],[47.8,48.8,-2e-3],[48.8,49.5,-9e-4],[55.2,55.8,-1e-3],[72.55,76.9,2e-4],[92.9,93.6,-3e-4]];
const n3Attr = [[9.4,10.0,-2e-4],[12.5,12.9,5e-4],[18.7,20.1,2e-4],[21.4,22.1,-3e-4],[24.1,30.1,3e-4],[26.7,27.1,8e-4],[42.8,43.5,1.2e-3],
  [43.5,44.67,-2e-4],[55.2,55.8,-4e-4],[72.55,73.2,1e-3],[73.2,74.9,4e-4],[74.9,75.6,1.6e-3],[75.6,76.9,4e-4],[89.6,90.3,3e-4],
  [92.9,94.0,-1.4e-3],[94.0,95.55,-4e-4]];
const n4Attr = [[9.4,10.0,3e-4],[19.4,20.1,-1.4e-3],[20.1,21.4,-4e-4],[21.4,22.1,5e-4],[22.1,24.1,-3e-4],[24.1,25.75,7e-4],[25.75,26.4,1.6e-3],
  [26.4,27.8,7e-4],[27.8,28.8,1.2e-3],[28.8,30.1,6e-4],[42.8,44.67,-4e-4],[47.8,48.8,-2e-3],[55.2,55.8,-1.6e-3],[55.8,56.8,-4e-4],
  [72.55,73.2,-1.2e-3],[74.9,76.9,1.2e-3],[75.4,75.9,1.7e-3],[89.6,90.3,3e-4],[92.9,94.0,-4e-4]];
const n5Attr = [[9.4,10.0,2e-4],[18.7,20.1,-2e-4],[24.1,30.1,2e-4],[42.8,43.5,-1.6e-3],[43.5,44.1,1.2e-3],[47.8,48.8,-1.8e-3],[49.5,50.5,2e-4],
  [55.2,57.2,-1.8e-3],[56.0,56.3,-8e-4],[72.55,76.9,2e-4],[74.9,75.6,1.4e-3],[92.9,94.0,-4e-4]];
const n6Attr = [[19.4,20.1,-1.4e-3],[20.1,24.1,2e-4],[24.1,25.4,5e-4],[25.4,26.75,1.6e-3],[26.75,30.1,5e-4],[42.8,43.5,-1.6e-3],[43.5,44.1,1.1e-3],
  [47.8,48.2,-8e-4],[55.2,55.8,-1.8e-3],[72.55,73.2,-4e-4],[74.9,75.6,8e-4],[92.9,93.6,-2e-4]];
const n7Attr = [[9.4,10.0,8e-4],[19.4,20.1,-1.2e-3],[20.1,24.1,4e-4],[24.1,30.1,6e-4],[24.75,25.75,1.6e-3],[27.8,28.8,1.5e-3],[42.8,43.14,-1.6e-3],
  [43.47,44.14,1.2e-3],[47.8,48.5,-4e-4],[55.2,55.8,3e-4],[74.9,75.6,1.4e-3],[89.6,90.3,4e-4],[92.9,93.6,-2e-4]];
const n8Attr = [[18.7,20.1,-2e-4],[28.1,30.1,-3e-4],[42.8,43.5,1.6e-3],[43.5,44.14,-1.4e-3],[44.14,44.67,1e-3],[47.8,48.8,-2e-3],[48.8,49.5,-9e-4],
  [74.9,76.9,4e-4],[89.6,90.1,-5e-4],[92.9,93.6,-4e-4]];
const n9Attr = [[18.7,20.1,-8e-4],[20.1,24.1,-3e-4],[24.1,30.1,2e-4],[42.8,43.5,5e-4],[47.8,48.8,-2e-3],[48.8,50.5,-1.2e-3],[49.2,49.5,-2e-3],
  [55.2,55.8,-1.8e-3],[72.55,72.9,-8e-4],[74.9,75.9,8e-4],[92.9,94.0,-8e-4]];
const n10Attr = [[9.4,10.0,-2e-4],[20.1,30.1,3e-4],[24.1,26.75,6e-4],[42.8,43.14,1.4e-3],[47.8,48.8,-1.6e-3],[55.2,55.8,-4e-4],[72.55,72.9,-8e-4],
  [73.2,76.9,4e-4],[74.9,75.6,1.6e-3],[92.9,93.6,-1.2e-3],[94.9,95.3,-6e-4]];
const n11Attr = [[21.4,22.1,1.2e-3],[22.1,30.1,5e-4],[25.4,26.75,1.6e-3],[42.8,43.5,-1.4e-3],[43.5,44.67,1.1e-3],[47.8,49.15,-2e-3],[55.2,55.8,-4e-4],
  [72.55,73.2,-1.6e-3],[74.9,75.6,1.6e-3],[89.6,90.1,4e-4],[92.9,93.6,-3e-4]];
const n12Attr = [[9.4,10.0,2e-4],[12.5,12.9,5e-4],[24.1,30.1,3e-4],[47.8,48.8,-2e-3],[72.55,73.2,-3e-4],[74.9,75.6,5e-4],[92.9,93.6,-2e-4]];
const n13Attr = [[18.7,19.4,-2e-4],[19.4,20.1,7e-4],[20.1,30.1,4e-4],[25.0,26.0,7e-4],[42.8,43.14,1e-3],[47.8,48.8,-2e-3],[48.8,49.5,-5e-4],[72.55,73.2,-2e-4]];
const n14Attr = [[9.4,10.7,6e-4],[10.0,10.3,1.2e-3],[18.7,30.1,4e-4],[24.4,25.4,7e-4],[26.75,28.1,1.8e-3],[42.8,43.5,1.2e-3],[47.8,48.8,-4e-4],
  [54.8,55.8,1.2e-3],[72.55,76.9,4e-4],[74.9,75.3,1e-3],[92.9,94.0,-4e-4]];
const n15Attr = [[9.4,10.7,2e-4],[19.4,20.4,-1.6e-3],[20.4,21.1,4e-4],[21.1,21.7,1.2e-3],[21.7,30.1,3e-4],[42.8,44.67,-4e-4],[47.8,49.5,-2e-3],
  [55.2,55.8,-4e-4],[74.9,76.9,4e-4],[89.6,90.1,4e-4],[92.9,93.6,-4e-4]];
const n16Attr = [[9.4,10.0,-2e-4],[19.4,30.1,3e-4],[26.75,28.1,-4e-4],[42.8,43.5,1.8e-3],[47.8,49.5,-1.6e-3],[55.2,57.2,5e-4],[74.9,76.9,3e-4],[92.9,94.0,4e-4]];
const n17Attr = [[19.4,19.73,1.2e-3],[19.73,30.1,3e-4],[24.4,30.1,5e-4],[47.8,49.5,2e-4],[72.55,76.9,2e-4],[92.9,93.6,-2e-4]];
const n18Attr = [[9.4,10.0,2e-4],[18.7,30.1,3e-4],[19.4,20.4,6e-4],[22.1,24.1,-3e-4],[26.4,27.1,1.1e-3],[42.8,44.67,3e-4],[47.8,48.8,-2e-3],
  [55.2,57.2,6e-4],[74.9,75.6,1.6e-3],[89.6,90.3,4e-4],[92.9,94.0,-8e-4]];
const n19Attr = [[18.7,30.1,3e-4],[22.1,24.1,-3e-4],[24.1,24.6,9e-4],[42.8,43.47,1.2e-3],[43.47,44.67,-4e-4],[47.8,49.5,-2e-3],[55.2,56.2,-1.8e-3],
  [56.2,57.2,-4e-4],[74.9,75.6,1.6e-3],[89.6,90.1,4e-4],[92.6,92.95,1e-3]];
const n20Attr = [[18.7,30.1,3e-4],[19.4,20.1,-4e-4],[22.1,24.1,-3e-4],[24.1,26.75,6e-4],[42.8,43.14,1.2e-3],[47.8,49.5,-2e-3],[55.2,55.6,-1.8e-3],
  [55.6,57.2,8e-4],[74.9,75.6,1.4e-3],[89.6,90.1,3e-4],[92.6,92.95,1e-3]];
const n21Attr = [[18.7,30.1,2e-4],[42.8,44.67,-4e-4],[47.8,48.8,-2e-3],[48.8,50.2,-8e-4],[54.5,55.8,-1e-3],[72.55,73.2,-3e-4],[89.6,90.1,2e-4],[92.9,93.6,-2e-4]];

// Colour bar
const ATTR_MIN = -0.002, ATTR_MAX = 0.002;
const colorbarTicks = [-0.002, -0.0015, -0.001, -0.0005, 0, 0.0005, 0.001, 0.0015, 0.002];

// ---------------- drawing ----------------
const FONT_FAMILY = "'DejaVu Sans', 'Liberation Sans', sans-serif";
const TICK_FONT = { family: FONT_FAMILY, size: 16 };
const DARK_LINE = '#1670b0';
const LIGHT_LINE = '#1cb0f5';
const FRAME = '#8c8c8c';
const fig = document.getElementById('fig');

// diverging red-blue map (blue = negative), drawn at 80 % opacity on white
const RDBU_R = ['#053061','#2166ac','#4393c3','#92c5de','#d1e5f0','#f7f7f7','#fddbc7','#f4a582','#d6604d','#b2182b','#67001f'];
const ATTR_ALPHA = 0.8;
function hexRgb(h) { return [1, 3, 5].map(i => parseInt(h.slice(i, i + 2), 16)); }
function attrColor(v) {
  let t = (v - ATTR_MIN) / (ATTR_MAX - ATTR_MIN);
  t = Math.max(0, Math.min(1, t));
  const p = t * (RDBU_R.length - 1);
  const i = Math.min(Math.floor(p), RDBU_R.length - 2);
  const f = p - i;
  const a = hexRgb(RDBU_R[i]), b = hexRgb(RDBU_R[i + 1]);
  const c = a.map((x, k) => Math.round((x + (b[k] - x) * f) * ATTR_ALPHA + 255 * (1 - ATTR_ALPHA)));
  return `rgb(${c[0]},${c[1]},${c[2]})`;
}
const OUTCOME_COLORS = { TN: '#ffffff', FP: '#ffedcc', FN: '#ffcccc', TP: '#cce6cc' };
const OUTCOME_EDGES = { TN: '#dadada', FP: '#f6ddb4', FN: '#f3b9b9', TP: '#b5d8b5' };

function addText(text, cx, cy, size, rotate) {
  const d = document.createElement('div');
  d.className = 'txt';
  d.textContent = text;
  d.style.fontSize = size + 'px';
  d.style.left = cx + 'px';
  d.style.top = cy + 'px';
  d.style.transform = 'translate(-50%,-50%)' + (rotate ? ` rotate(${rotate}deg)` : '');
  fig.appendChild(d);
}

// background bands + axes frame, drawn beneath the lines
function bandLayer(bands) {
  return {
    id: 'bandLayer',
    beforeDatasetsDraw(chart) {
      const { ctx, chartArea: a, scales: { x } } = chart;
      ctx.save();
      ctx.beginPath();
      ctx.rect(a.left, a.top, a.right - a.left, a.bottom - a.top);
      ctx.clip();
      for (const b of bands) {
        const x0 = x.getPixelForValue(b.from), x1 = x.getPixelForValue(b.to);
        ctx.fillStyle = b.color;
        ctx.fillRect(x0, a.top, Math.max(x1 - x0, 0.8), a.bottom - a.top);
      }
      ctx.restore();
      ctx.save();
      ctx.strokeStyle = FRAME;
      ctx.lineWidth = 1.5;
      ctx.strokeRect(a.left, a.top, a.right - a.left, a.bottom - a.top);
      ctx.restore();
    }
  };
}

function panel(o) {
  const padT = 12, padB = 12;
  const H = padT + (o.bottom - o.top) + o.xAxisH + padB;
  const cv = document.createElement('canvas');
  cv.width = 965; cv.height = H;
  cv.style.top = (o.top - padT) + 'px';
  fig.appendChild(cv);
  return new Chart(cv, {
    type: 'line',
    data: { datasets: o.datasets },
    options: {
      responsive: false, animation: false, devicePixelRatio: 1, events: [],
      layout: { padding: { top: padT, bottom: padB, left: 0, right: 0 } },
      plugins: { legend: { display: false }, tooltip: { enabled: false } },
      elements: { point: { radius: 0 }, line: { tension: 0, borderJoinStyle: 'round' } },
      scales: {
        x: {
          type: 'linear', min: o.xMin, max: o.xMax,
          afterBuildTicks: s => { s.ticks = o.xTicks.map(v => ({ value: v })); },
          afterFit: s => { s.height = o.xAxisH; },
          grid: { display: o.xTicks.length > 0, drawOnChartArea: false, drawTicks: true, tickLength: 5, color: '#000', lineWidth: 1 },
          border: { display: false },
          ticks: { display: !!o.xLabels, font: TICK_FONT, color: '#111', padding: 1, maxRotation: 0, autoSkip: false,
                   callback: (v, i) => (o.xLabels ? o.xLabels[i] : '') }
        },
        y: {
          type: 'linear', min: o.yMin, max: o.yMax,
          afterBuildTicks: s => { s.ticks = o.yTicks.map(v => ({ value: v })); },
          afterFit: s => { s.width = 98; },
          grid: { drawOnChartArea: false, drawTicks: true, tickLength: 5, color: '#000', lineWidth: 1 },
          border: { display: false },
          ticks: { font: TICK_FONT, color: '#111', padding: 2, autoSkip: false, callback: v => String(v) }
        }
      }
    },
    plugins: [bandLayer(o.bands)]
  });
}

function attrBands(list, coverage, baseValue) {
  const bands = coverage.map(([f, t]) => ({ from: f, to: t, color: attrColor(baseValue) }));
  for (const [f, t, v] of list) bands.push({ from: f, to: t, color: attrColor(v) });
  return bands;
}

function lineSet(points, color, width) {
  return { data: points, borderColor: color, borderWidth: width, pointRadius: 0, fill: false, spanGaps: false };
}

// ---- prediction panel ----
panel({
  top: 25, bottom: 58, xAxisH: 5,
  xMin: FLAG_X_MIN, xMax: FLAG_X_MAX, xTicks: flagTickHours,
  yMin: 0, yMax: 1, yTicks: [0, 1],
  bands: outcomePeriods.map(([f, t, k]) => ({ from: f, to: t, color: OUTCOME_COLORS[k] })),
  datasets: [lineSet(predictionPoints.map(([x, y]) => ({ x, y })), '#000', 1.6)]
});
addText('Prediction', 74, 42, 16, -90);

// legend of outcome classes
const legendX = { TN: [360, 399], FP: [455, 499], FN: [549, 592], TP: [644, 687] };
outcomeClasses.forEach(k => {
  const sw = document.createElement('div');
  sw.className = 'swatch';
  sw.style.left = legendX[k][0] + 'px';
  sw.style.top = '76px';
  sw.style.background = OUTCOME_COLORS[k];
  sw.style.borderColor = OUTCOME_EDGES[k];
  fig.appendChild(sw);
  const t = document.createElement('div');
  t.className = 'txt';
  t.textContent = k;
  t.style.left = legendX[k][1] + 'px';
  t.style.top = '74px';
  fig.appendChild(t);
});

// ---- flagged sensor ----
addText('Flagged Sensor', 531.5, 180, 18.7);
const tlPoints = vals => vals.map((y, i) => ({ x: TL_FIRST_HOUR + i * TL_STEP_HOURS, y }));
const flagCoverage = [[FLAG_X_MIN, FLAG_X_MAX]];
[
  { top: 190, bottom: 219.5, label: 'TL 1', vals: tl1Values, attr: tl1Attr, color: LIGHT_LINE },
  { top: 226, bottom: 255, label: 'TL 2', vals: tl2Values, attr: tl2Attr, color: DARK_LINE }
].forEach(p => {
  panel({
    top: p.top, bottom: p.bottom, xAxisH: 5,
    xMin: FLAG_X_MIN, xMax: FLAG_X_MAX, xTicks: flagTickHours,
    yMin: -1.8, yMax: 10, yTicks: [0, 10],
    bands: attrBands(p.attr, flagCoverage, 0),
    datasets: [lineSet(tlPoints(p.vals), p.color, 2.2)]
  });
  addText(p.label, 52, p.top + 22, 16);
});

// ---- reference cycle and neighbours ----
addText('Self Reference Cycle and Neighbouring Sensors', 531.5, 307, 18.7);
function nbPoints(values) {
  const pts = [];
  let k = 0;
  NB_SEGMENTS.forEach(([start, count], s) => {
    if (s > 0) pts.push({ x: start - NB_STEP_HOURS / 2, y: null });
    for (let i = 0; i < count; i++, k++) pts.push({ x: start + i * NB_STEP_HOURS, y: values[k] });
  });
  return pts;
}
const nbDark = [n0Dark,n1Dark,n2Dark,n3Dark,n4Dark,n5Dark,n6Dark,n7Dark,n8Dark,n9Dark,n10Dark,n11Dark,n12Dark,n13Dark,n14Dark,n15Dark,n16Dark,n17Dark,n18Dark,n19Dark,n20Dark,n21Dark];
const nbLight = [n0Light,n1Light,n2Light,n3Light,n4Light,n5Light,n6Light,n7Light,n8Light,n9Light,n10Light,n11Light,n12Light,n13Light,n14Light,n15Light,n16Light,n17Light,n18Light,n19Light,n20Light,n21Light];
const nbAttr = [n0Attr,n1Attr,n2Attr,n3Attr,n4Attr,n5Attr,n6Attr,n7Attr,n8Attr,n9Attr,n10Attr,n11Attr,n12Attr,n13Attr,n14Attr,n15Attr,n16Attr,n17Attr,n18Attr,n19Attr,n20Attr,n21Attr];
const NB_TOP = 319, NB_PITCH = 32.62, NB_HEIGHT = 27;

nbDark.forEach((dark, k) => {
  const top = NB_TOP + k * NB_PITCH;
  const last = k === nbDark.length - 1;
  const spikes = lineSpikes.filter(s => s[0] === k).map(([, which, h, y0, y1]) =>
    lineSet([{ x: h, y: y0 }, { x: h, y: y1 }], which === 'dark' ? DARK_LINE : LIGHT_LINE, 1.4));
  panel({
    top, bottom: top + NB_HEIGHT, xAxisH: last ? 30 : 0,
    xMin: NB_X_MIN, xMax: NB_X_MAX, xTicks: last ? nbTickHours : [], xLabels: last ? nbTickLabels : null,
    yMin: -1.8, yMax: 10, yTicks: [0, 10],
    bands: attrBands(nbAttr[k], nbCoverage, -0.00004),
    datasets: [...spikes, lineSet(nbPoints(dark), DARK_LINE, 1.9), lineSet(nbPoints(nbLight[k]), LIGHT_LINE, 2.0)]
  });
  addText(`N${k} TL`, 37, top + 6, 16);
});

// ---- colour bar ----
(function colorbar() {
  const top = 1139, bottom = 1152, left = 240, right = 800;
  const padT = 12, padB = 2, xAxisH = 38;
  const H = padT + (bottom - top) + xAxisH + padB;
  const cv = document.createElement('canvas');
  cv.width = 965; cv.height = H;
  cv.style.top = (top - padT) + 'px';
  fig.appendChild(cv);
  new Chart(cv, {
    type: 'line',
    data: { datasets: [] },
    options: {
      responsive: false, animation: false, devicePixelRatio: 1, events: [],
      layout: { padding: { top: padT, bottom: padB, left: left, right: 965 - right } },
      plugins: { legend: { display: false }, tooltip: { enabled: false } },
      scales: {
        x: {
          type: 'linear', min: ATTR_MIN, max: ATTR_MAX,
          afterBuildTicks: s => { s.ticks = colorbarTicks.map(v => ({ value: v })); },
          afterFit: s => { s.height = xAxisH; },
          grid: { drawOnChartArea: false, drawTicks: true, tickLength: 4, color: '#000', lineWidth: 1 },
          border: { display: false },
          ticks: { font: TICK_FONT, color: '#111', padding: 0, maxRotation: 0, autoSkip: false,
                   callback: v => v.toFixed(4).replace('-', '\u2212').replace('\u22120.0000', '0.0000') },
          title: { display: true, text: 'Attribution', font: TICK_FONT, color: '#111', padding: { top: 0, bottom: 0 } }
        },
        y: { display: false, min: 0, max: 1 }
      }
    },
    plugins: [{
      id: 'colorRamp',
      beforeDatasetsDraw(chart) {
        const { ctx, chartArea: a, scales: { x } } = chart;
        for (let px = Math.floor(a.left); px < Math.ceil(a.right); px++) {
          ctx.fillStyle = attrColor(x.getValueForPixel(px + 0.5));
          ctx.fillRect(px, a.top, 1, a.bottom - a.top);
        }
        ctx.strokeStyle = FRAME;
        ctx.lineWidth = 1;
        ctx.strokeRect(a.left, a.top, a.right - a.left, a.bottom - a.top);
      }
    }]
  });
})();
</script>
</body>
</html>
